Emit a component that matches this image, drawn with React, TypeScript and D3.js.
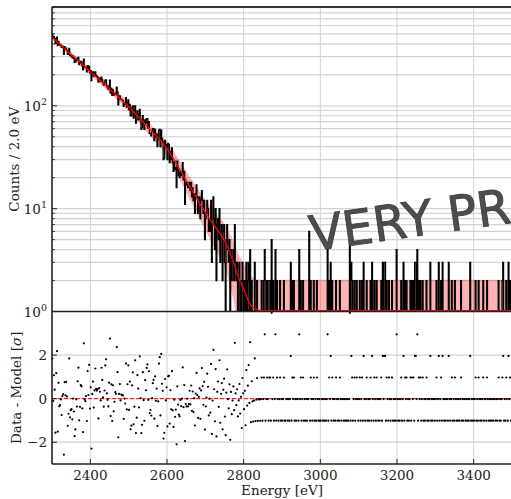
import React from "react";
import * as d3 from "d3";

const BIN = 2;
const E_MIN = 2300;
const E_MAX = 3500;

// residuals [sigma], bins 2300-2758 eV
const residualsSignal = [
  1.82, -0.12, 1.06, 0.41, -1.58, 1.15, 2.17, -1.5, 0.72, -0.35,
  -0.28, -0.05, -0.74, 0.1, 0.23, -2.58, 0.78, 0.14, 0.75, 0.08,
  -1.27, -0.69, 1.82, -0.84, -0.51, -0.5, -0.97, 0, -0.58, -1.73,
  -1.39, -0.05, -0.35, 0.8, 1.41, -0.97, -0.35, 0.64, 0.54, -0.43,
  -1.55, 2.53, -0.05, -0.12, 0.1, -1.04, 1.26, 0.18, 1.56, -0.47,
  0.52, -2.27, 0.22, 0.78, -0.43, 0.41, 1.41, 0.45, 0.34, 0.41,
  -0.89, 0.49, 0.29, -0.05, 1.41, 0.87, 0.03, -0.35, 0.41, 1.49,
  1.82, 0.26, -0.05, -0.35, 0.72, 2.79, -0.81, 0.64, -1.04, 0.57,
  -0.58, -0.12, 0.29, 0.18, 2.33, 1.18, -1.81, 0.18, 0.64, -0.05,
  0.18, 0.18, 0.1, -0.97, 0.03, -0.2, 1.64, -0.51, 0.64, 1.49,
  -0.51, 0.8, -1.43, -1.2, 0.64, 1.18, -1.2, -0.35, 1.72, -1.58,
  -0.89, 1.03, 0.49, -0.38, 1.94, 0.03, -1.58, -1.2, 1.26, -0.05,
  -0.97, 0.87, 0.41, 1.41, 1.56, -0.05, 1.26, -0.66, -0.51, -0.74,
  0.03, 0.72, 0.87, -0.97, 1.0, -0.05, 0.41, -1.27, -0.12, 1.64,
  1.87, -0.74, 2.1, 0.64, 0.41, -1.76, -1.5, 0.95, -0.05, 0.54,
  -1.27, 1.03, 1.0, -1.12, 0.45, -0.43, 1.18, -0.58, -1.27, -0.05,
  -0.89, -0.51, -2.07, 0.49, -0.2, -0.81, -0.74, -0.05, -0.35, 0.1,
  1.41, -0.38, 0.57, -1.89, -0.35, -0.28, -0.12, -0.35, -0.2, 0.41,
  -0.35, 0.72, -0.66, 0.29, -0.74, -0.05, -1.12, 0.34, 1.06, 0.1,
  -0.97, -0.05, 0.54, -0.81, 0.34, 1.41, 0.49, -0.23, 0.8, -1.35,
  -0.2, -0.05, 1.0, 0.41, -0.66, -0.05, -0.51, 1.49, -1.58, -0.05,
  2.25, 0.6, -0.9, 1.2, -1.6, 0.3, 0.9, -0.4, 1.7, -1.1,
  0.2, 0.8, -1.3, 0.5, 1.1, -0.7, -1.5, 0.4, 1.3, -0.2,
];

// counts per bin near the endpoint, bins 2760-2838 eV
const countsTail = [
  3, 5, 0, 4, 2, 3, 4, 2, 7, 3,
  2, 3, 1, 2, 3, 1, 2, 0, 3, 2,
  1, 2, 0, 3, 1, 2, 3, 1, 4, 0,
  2, 1, 0, 1, 3, 0, 1, 2, 0, 1,
];

// counts per bin in the background region, bins 2840-3498 eV
const countsFlat = [
  1, 0, 1, 2, 0, 1, 2, 4, 0, 1,
  2, 1, 0, 2, 2, 0, 5, 1, 2, 0,
  1, 4, 0, 2, 1, 0, 1, 2, 0, 1,
  0, 1, 2, 0, 0, 1, 1, 0, 1, 0,
  1, 3, 0, 2, 1, 2, 0, 1, 0, 1,
  1, 0, 4, 1, 2, 0, 1, 2, 0, 1,
  0, 1, 0, 1, 1, 6, 0, 2, 1, 0,
  1, 2, 0, 1, 0, 2, 1, 0, 1, 0,
  0, 1, 1, 0, 1, 0, 1, 0, 1, 4,
  0, 2, 1, 3, 0, 2, 1, 0, 1, 0,
  2, 1, 0, 1, 0, 2, 1, 0, 1, 1,
  0, 1, 0, 1, 0, 1, 0, 1, 5, 0,
  3, 2, 0, 1, 2, 0, 1, 2, 1, 0,
  1, 2, 0, 1, 2, 0, 3, 1, 0, 1,
  2, 0, 1, 0, 1, 2, 0, 3, 1, 0,
  2, 1, 0, 2, 1, 0, 1, 0, 1, 2,
  0, 3, 1, 3, 3, 0, 2, 1, 0, 2,
  1, 0, 1, 2, 0, 1, 0, 1, 0, 4,
  1, 0, 1, 0, 1, 2, 0, 1, 3, 0,
  2, 1, 2, 0, 1, 0, 1, 2, 0, 2,
  1, 2, 0, 3, 3, 1, 4, 0, 2, 1,
  2, 0, 1, 2, 0, 1, 0, 1, 2, 0,
  1, 0, 1, 3, 0, 1, 0, 1, 1, 0,
  1, 2, 0, 1, 3, 0, 1, 2, 0, 3,
  1, 0, 1, 0, 1, 1, 0, 3, 1, 0,
  1, 2, 0, 1, 0, 2, 1, 0, 1, 0,
  1, 0, 1, 2, 0, 1, 0, 1, 1, 0,
  1, 0, 1, 0, 1, 3, 0, 1, 0, 1,
  0, 1, 2, 0, 1, 0, 2, 1, 0, 1,
  0, 1, 2, 0, 1, 1, 0, 2, 1, 0,
  1, 0, 1, 0, 1, 0, 1, 1, 0, 1,
  0, 1, 2, 0, 1, 0, 1, 2, 3, 0,
  1, 0, 2, 1, 0, 3, 1, 2, 0, 1,
];

// model curve (counts / bin)
const modelE = [2300, 2350, 2400, 2450, 2500, 2550, 2600, 2650, 2700, 2725, 2750, 2775, 2786, 2800, 2816, 2834, 2850, 3500];
const modelV = [466, 316, 214, 146, 98, 62, 38.4, 18.8, 9.2, 6.7, 4.9, 2.9, 2.16, 1.65, 1.19, 1.04, 1.02, 1.02];

const xTicks = [2400, 2600, 2800, 3000, 3200, 3400];
const yTopDecades = [0, 1, 2];
const yResTicks = [-2, 0, 2];
const watermark = "VERY PRELIMINARY";

function modelAt(e: number): number {
  for (let k = 0; k < modelE.length - 1; k++) {
    if (e <= modelE[k + 1]) {
      const t = (e - modelE[k]) / (modelE[k + 1] - modelE[k]);
      return Math.pow(10, Math.log10(modelV[k]) * (1 - t) + Math.log10(modelV[k + 1]) * t);
    }
  }
  return modelV[modelV.length - 1];
}

export default function App() {
  const W = 511, H = 499;
  const L = 52, R = 512, T = 7, MID = 311.5, B = 464;
  const x = d3.scaleLinear().domain([E_MIN, E_MAX]).range([L, R]);
  const yTop = d3.scaleLog().domain([1, 913]).range([MID, T]);
  const yRes = d3.scaleLinear().domain([-3, 4]).range([B, MID]);

  const counts: number[] = [];
  residualsSignal.forEach((r, i) => {
    const m = modelAt(E_MIN + BIN * i + BIN / 2);
    counts.push(Math.max(0, Math.round(m + r * Math.sqrt(m))));
  });
  counts.push(...countsTail, ...countsFlat);
  const bins = counts.map((c, i) => ({ e0: E_MIN + BIN * i, c }));
  const resid = bins.map((b) => {
    const m = modelAt(b.e0 + BIN / 2);
    return { e: b.e0 + BIN / 2, r: (b.c - m) / Math.sqrt(m) };
  });

  const stepPts: [number, number][] = [...bins.map((b) => [b.e0, b.c] as [number, number]), [E_MAX, counts[counts.length - 1]]];
  const histPath = d3
    .line<[number, number]>()
    .x((d) => x(d[0]))
    .y((d) => (d[1] > 0 ? yTop(d[1]) : MID + 30))
    .curve(d3.curveStepAfter)(stepPts) as string;

  const knots = modelE.map((e, i) => ({ e, v: modelV[i] }));
  const modelPath = d3
    .line<{ e: number; v: number }>()
    .x((d) => x(d.e))
    .y((d) => yTop(d.v))
    .curve(d3.curveMonotoneX)(knots) as string;
  const bandPath = d3
    .area<{ e: number; v: number }>()
    .x((d) => x(d.e))
    .y0((d) => yTop(Math.max(d.v - Math.sqrt(d.v), 0.05)))
    .y1((d) => yTop(d.v + Math.sqrt(d.v)))
    .curve(d3.curveMonotoneX)(knots) as string;

  const minorTicks: number[] = [];
  for (let d = 0; d < 3; d++) for (let k = 2; k <= 9; k++) {
    const v = k * Math.pow(10, d);
    if (v <= 913) minorTicks.push(v);
  }

  const gridColor = "#d2d2d2";
  const font = "DejaVu Serif";
  const textColor = "#222";

  return (
    <svg width={W} height={H} style={{ position: "absolute", left: 0, top: 0 }}>
      <defs>
        <clipPath id="clipTop"><rect x={L} y={T} width={R - L} height={MID - T} /></clipPath>
        <clipPath id="clipRes"><rect x={L} y={MID} width={R - L} height={B - MID} /></clipPath>
      </defs>
      <rect x={0} y={0} width={W} height={H} fill="white" />

      {minorTicks.concat(yTopDecades.map((d) => Math.pow(10, d))).map((v, i) => (
        <line key={"hg" + i} x1={L} x2={R} y1={yTop(v)} y2={yTop(v)} stroke={gridColor} strokeWidth={1.2} />
      ))}
      {xTicks.map((t) => (
        <line key={"vg" + t} x1={x(t)} x2={x(t)} y1={T} y2={B} stroke={gridColor} strokeWidth={1} />
      ))}
      {yResTicks.map((t) => (
        <line key={"rg" + t} x1={L} x2={R} y1={yRes(t)} y2={yRes(t)} stroke={gridColor} strokeWidth={1.2} />
      ))}

      <g clipPath="url(#clipTop)">
        <path d={bandPath} fill="#ff0000" fillOpacity={0.3} stroke="none" />
        <path d={histPath} fill="none" stroke="#000" strokeWidth={1.3} />
        <path d={modelPath} fill="none" stroke="#ff0000" strokeWidth={1.3} />
      </g>

      <g clipPath="url(#clipRes)">
        <line x1={L} x2={R} y1={yRes(0)} y2={yRes(0)} stroke="#ff0000" strokeWidth={1} strokeDasharray="4,2" />
        {resid.map((d, i) => (
          <circle key={"r" + i} cx={x(d.e)} cy={yRes(d.r)} r={1.1} fill="#000" />
        ))}
      </g>

      <line x1={L} x2={R} y1={T} y2={T} stroke="#333" strokeWidth={2} />
      <line x1={L} x2={R} y1={MID} y2={MID} stroke="#222" strokeWidth={1.5} />
      <line x1={L} x2={R} y1={B} y2={B} stroke="#222" strokeWidth={1.5} />
      <line x1={L} x2={L} y1={T} y2={B} stroke="#111" strokeWidth={1.5} />

      {yTopDecades.map((d) => (
        <g key={"yt" + d}>
          <line x1={L} x2={L + 5} y1={yTop(Math.pow(10, d))} y2={yTop(Math.pow(10, d))} stroke="#222" strokeWidth={1} />
          <text x={47} y={yTop(Math.pow(10, d)) + 5.5} textAnchor="end" fontFamily={font} fontSize={13.5} fill={textColor}>
            10<tspan dy={-6} fontSize={9.5}>{d}</tspan>
          </text>
        </g>
      ))}
      {minorTicks.map((v, i) => (
        <line key={"mt" + i} x1={L} x2={L + 3} y1={yTop(v)} y2={yTop(v)} stroke="#222" strokeWidth={0.8} />
      ))}

      {yResTicks.map((t) => (
        <g key={"ry" + t}>
          <line x1={L} x2={L + 5} y1={yRes(t)} y2={yRes(t)} stroke="#222" strokeWidth={1} />
          <text x={47} y={yRes(t) + 5} textAnchor="end" fontFamily={font} fontSize={13.5} fill={textColor}>
            {t < 0 ? "\u2212" + Math.abs(t) : String(t)}
          </text>
        </g>
      ))}

      {xTicks.map((t) => (
        <g key={"xt" + t}>
          <line x1={x(t)} x2={x(t)} y1={B} y2={B - 5} stroke="#222" strokeWidth={1} />
          <text x={x(t)} y={480} textAnchor="middle" fontFamily={font} fontSize={13.5} fill={textColor}>{t}</text>
        </g>
      ))}

      <text x={(L + R) / 2} y={495} textAnchor="middle" fontFamily={font} fontSize={13.5} fill={textColor}>Energy [eV]</text>
      <text transform={`translate(18.5,${(T + MID) / 2}) rotate(-90)`} textAnchor="middle" fontFamily={font} fontSize={13.5} fill={textColor}>
        Counts / 2.0 eV
      </text>
      <text transform={`translate(21,${(MID + B) / 2}) rotate(-90)`} textAnchor="middle" fontFamily={font} fontSize={13.5} fill={textColor}>
        Data - Model [<tspan fontStyle="italic">σ</tspan>]
      </text>

      <text x={312} y={251} transform="rotate(-8, 312, 251)" fontFamily="DejaVu Sans" fontSize={48.5}
        fill="#4d4d4d" stroke="#3f3f3f" strokeWidth={0.9}>
        {watermark}
      </text>
    </svg>
  );
}
